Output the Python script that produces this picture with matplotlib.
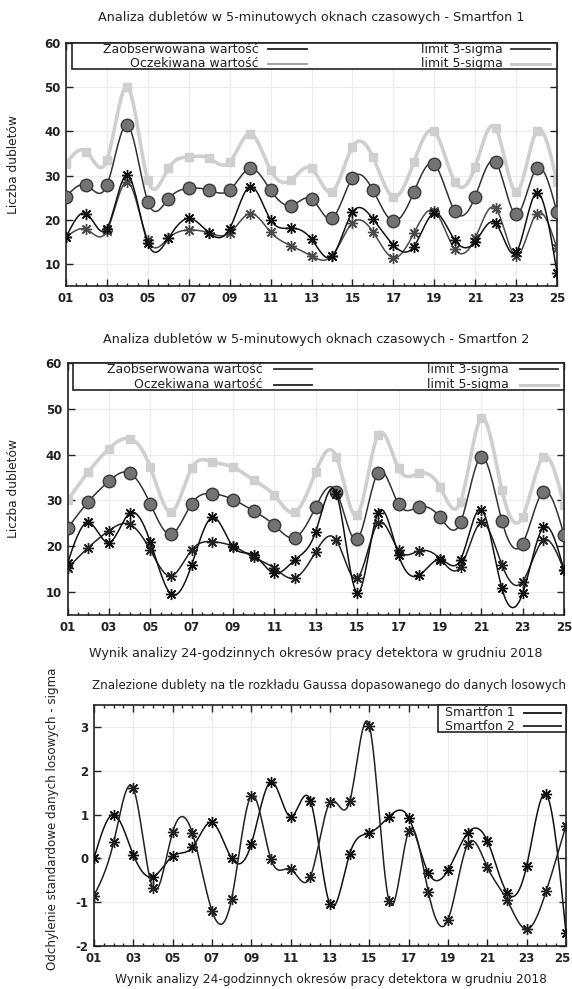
import numpy as np
import matplotlib
matplotlib.use("Agg")
import matplotlib.pyplot as plt
from matplotlib.ticker import MultipleLocator, FixedLocator
from matplotlib.patches import Rectangle
from matplotlib.transforms import ScaledTranslation

plt.rcParams['font.family'] = ['DejaVu Sans']
plt.rcParams['axes.unicode_minus'] = False

# dni grudnia 2018
days = list(range(1, 26))
day_ticks = list(range(1, 26, 2))
day_labels = ['%02d' % d for d in day_ticks]

# Smartfon 1
s1_obs = [16, 21.4, 18, 30.1, 14.7, 15.8, 20.3, 17, 18, 27.5, 20, 18.1, 15.6,
          11.7, 21.7, 20.2, 14.3, 13.9, 21.5, 15.4, 15, 19.2, 12.6, 26.1, 8]
s1_exp = [16, 17.8, 17.5, 28.6, 15.4, 15.8, 17.7, 17, 17, 21.4, 17.2, 14.1, 11.8,
          11.8, 19.3, 17.3, 11.4, 16.9, 22, 13.3, 15.8, 22.6, 11.8, 21.4, 13.5]
s1_3sig = [25.2, 27.8, 27.8, 41.4, 24.1, 24.7, 27.1, 26.7, 26.7, 31.6, 26.7, 23.2, 24.7,
           20.3, 29.4, 26.7, 19.7, 26.2, 32.6, 22.0, 25.2, 33.1, 21.2, 31.6, 21.7]
s1_5sig = [32.7, 35.4, 33.5, 50, 29, 31.6, 34.2, 33.9, 33, 39.5, 31.2, 29, 31.6,
           26.3, 36.5, 34.2, 25.2, 33, 40, 28.6, 32, 40.8, 26.3, 40, 28.5]

# Smartfon 2
s2_obs = [16.3, 25.2, 20.8, 27.2, 21, 9.6, 15.9, 26.3, 19.9, 18.1, 14.1, 17.1, 23.2,
          31.5, 9.9, 27.2, 18.1, 13.7, 17.1, 17.1, 28, 10.8, 9.7, 24.1, 14.8]
s2_exp = [15.2, 19.7, 23.4, 24.8, 19.2, 13.5, 19.2, 21, 20, 17.6, 15.2, 13.1, 18.8,
          21.3, 13, 25, 19.2, 19, 17.3, 15.5, 25.2, 15.9, 12.3, 21.3, 14.8]
s2_3sig = [23.9, 29.7, 34.2, 36.0, 29.3, 22.6, 29.3, 31.5, 30.2, 27.7, 24.6, 21.9, 28.6,
           31.9, 21.5, 36.0, 29.2, 28.6, 26.4, 25.2, 39.5, 25.5, 20.6, 31.9, 22.5]
s2_5sig = [30, 36.2, 41.3, 43.5, 37.3, 27.5, 37, 38.4, 37.3, 34.4, 31.1, 27.5, 36.2,
           39.5, 26.8, 44.2, 37, 35.9, 33, 29.7, 47.9, 32.2, 26.4, 39.5, 29]

# odchylenie w sigmach
sig_s1 = [0.0, 1.0, 0.08, -0.42, 0.05, 0.25, 0.82, 0.0, 0.33, 1.75, 0.95, 1.32, -1.05,
          0.1, 0.58, 0.95, 0.93, -0.33, -0.27, 0.58, 0.4, -0.78, -0.17, 1.46, -1.7]
sig_s2 = [-0.85, 0.37, 1.6, -0.68, 0.6, 0.58, -1.2, -0.92, 1.43, -0.02, -0.25, -0.42, 1.28,
          1.3, 3.03, -0.97, 0.62, -0.77, -1.4, 0.32, -0.2, -0.95, -1.62, -0.74, 0.75]


def csplines(x, y, n=400):
    # naturalny splajn kubiczny (jak "smooth csplines" w gnuplocie)
    x = np.asarray(x, float)
    y = np.asarray(y, float)
    h = np.diff(x)
    m = len(x)
    A = np.zeros((m, m))
    b = np.zeros(m)
    A[0, 0] = A[-1, -1] = 1
    for i in range(1, m - 1):
        A[i, i - 1] = h[i - 1]
        A[i, i] = 2 * (h[i - 1] + h[i])
        A[i, i + 1] = h[i]
        b[i] = 6 * ((y[i + 1] - y[i]) / h[i] - (y[i] - y[i - 1]) / h[i - 1])
    M = np.linalg.solve(A, b)
    xs = np.linspace(x[0], x[-1], n)
    k = np.clip(np.searchsorted(x, xs) - 1, 0, m - 2)
    hh = x[k + 1] - x[k]
    a = (x[k + 1] - xs) / hh
    c = (xs - x[k]) / hh
    ys = a * y[k] + c * y[k + 1] + ((a ** 3 - a) * M[k] + (c ** 3 - c) * M[k + 1]) * hh ** 2 / 6
    return xs, ys


star = (8, 2, 0)


def series(ax, y, color, lw=1.0, marker=star, ms=8, mfc=None, mec=None, z=3):
    xs, ys = csplines(days, y)
    ax.plot(xs, ys, color=color, lw=lw, zorder=z)
    ax.plot(days, y, ls='none', marker=marker, ms=ms,
            mfc=mfc if mfc else color, mec=mec if mec else color, mew=1.0, zorder=z)


def style_axes(ax, ylim, yticks):
    ax.set_xlim(1, 25)
    ax.set_ylim(*ylim)
    ax.xaxis.set_major_locator(FixedLocator(day_ticks))
    ax.set_xticklabels(day_labels)
    ax.xaxis.set_minor_locator(MultipleLocator(0.5))
    ax.set_yticks(yticks)
    ax.tick_params(which='both', direction='in', top=True, right=True, colors='#222222',
                   labelsize=8.5, width=1.0)
    ax.tick_params(which='major', length=5, pad=4)
    ax.tick_params(which='minor', length=2.5)
    for lab in ax.get_xticklabels() + ax.get_yticklabels():
        lab.set_fontweight('bold')
    for s in ax.spines.values():
        s.set_linewidth(1.2)
        s.set_color('#222222')
    ax.grid(True, which='major', color='#ececec', lw=0.8, zorder=0)


def key(ax, rows, box, size=9):
    # legenda w stylu gnuplota: tekst wyrównany do prawej, linia za tekstem
    x0, y0, x1, y1 = box
    ax.add_patch(Rectangle((x0, y0), x1 - x0, y1 - y0, transform=ax.transAxes,
                           fc='white', ec='#222222', lw=1.2, zorder=5, clip_on=False))
    for txt, tx, lx0, lx1, ty, col, lw in rows:
        ax.text(tx, ty, txt, transform=ax.transAxes, ha='right', va='center',
                fontsize=size, color='#222222', zorder=6)
        ax.plot([lx0, lx1], [ty, ty], transform=ax.transAxes, color=col, lw=lw,
                zorder=6, clip_on=False)


fig = plt.figure(figsize=(5.72, 9.89), dpi=100)
W, H = 572.0, 989.0


def place(l, t, r, b):
    return fig.add_axes([l / W, 1 - b / H, (r - l) / W, (b - t) / H])


# ---- panel 1 ----
ax1 = place(66, 43, 557, 286)
series(ax1, s1_5sig, '#cfcfcf', lw=2.6, marker='s', ms=6, z=2)
series(ax1, s1_3sig, '#333333', lw=1.1, marker='o', ms=9, mfc='#737373', mec='#3a3a3a')
series(ax1, s1_exp, '#4a4a4a', lw=1.1)
series(ax1, s1_obs, '#111111', lw=1.1)
style_axes(ax1, (5, 60), range(10, 61, 10))
key(ax1, [('Zaobserwowana wartość', 0.393, 0.411, 0.491, 0.975, '#222222', 1.3),
          ('Oczekiwana wartość', 0.393, 0.411, 0.491, 0.914, '#9a9a9a', 1.3),
          ('limit 3-sigma', 0.890, 0.906, 0.986, 0.975, '#333333', 1.3),
          ('limit 5-sigma', 0.890, 0.906, 0.986, 0.914, '#cbcbcb', 2.2)],
    (0.012, 0.892, 1.0, 1.0))
ax1.set_ylabel('Liczba dubletów', fontsize=8.8, color='#222222')
ax1.yaxis.set_label_coords((20 - 66) / 491.0, 0.5)
fig.text(311 / W, 1 - 17 / H, 'Analiza dubletów w 5-minutowych oknach czasowych - Smartfon 1',
         ha='center', va='center', fontsize=9.2, color='#222222')

# ---- panel 2 ----
ax2 = place(67.5, 363, 564, 615)
series(ax2, s2_5sig, '#cfcfcf', lw=2.6, marker='s', ms=6, z=2)
series(ax2, s2_3sig, '#333333', lw=1.1, marker='o', ms=9, mfc='#737373', mec='#3a3a3a')
series(ax2, s2_exp, '#222222', lw=1.1)
series(ax2, s2_obs, '#111111', lw=1.1)
style_axes(ax2, (5, 60), range(10, 61, 10))
key(ax2, [('Zaobserwowana wartość', 0.394, 0.416, 0.493, 0.976, '#333333', 1.3),
          ('Oczekiwana wartość', 0.394, 0.416, 0.493, 0.913, '#222222', 1.3),
          ('limit 3-sigma', 0.889, 0.911, 0.988, 0.976, '#333333', 1.3),
          ('limit 5-sigma', 0.889, 0.911, 0.988, 0.913, '#cbcbcb', 2.2)],
    (0.012, 0.893, 1.0, 1.0))
ax2.set_ylabel('Liczba dubletów', fontsize=8.8, color='#222222')
ax2.yaxis.set_label_coords((20 - 67.5) / 496.5, 0.5)
fig.text(316 / W, 1 - 339 / H, 'Analiza dubletów w 5-minutowych oknach czasowych - Smartfon 2',
         ha='center', va='center', fontsize=9.2, color='#222222')
fig.text(316 / W, 1 - 653 / H, 'Wynik analizy 24-godzinnych okresów pracy detektora w grudniu 2018',
         ha='center', va='center', fontsize=9.2, color='#222222')

# ---- panel 3 ----
ax3 = place(94, 705, 566, 946)
series(ax3, sig_s1, '#111111', lw=1.1)
series(ax3, sig_s2, '#222222', lw=1.1)
style_axes(ax3, (-2, 3.5), range(-2, 4))
# ostatnia etykieta lekko w lewo, żeby nie wychodziła poza obraz
last = ax3.get_xticklabels()[-1]
last.set_transform(last.get_transform() + ScaledTranslation(-4 / 100, 0, fig.dpi_scale_trans))
key(ax3, [('Smartfon 1', 0.892, 0.911, 0.989, 0.967, '#111111', 1.3),
          ('Smartfon 2', 0.892, 0.911, 0.989, 0.9125, '#222222', 1.3)],
    (0.729, 0.8875, 1.0, 1.0))
ax3.set_ylabel('Odchylenie standardowe danych losowych - sigma', fontsize=8.6, color='#222222')
ax3.yaxis.set_label_coords((59 - 94) / 472.0, 0.53)
fig.text(329 / W, 1 - 685 / H, 'Znalezione dublety na tle rozkładu Gaussa dopasowanego do danych losowych',
         ha='center', va='center', fontsize=8.6, color='#222222')
fig.text(331 / W, 1 - 980 / H, 'Wynik analizy 24-godzinnych okresów pracy detektora w grudniu 2018',
         ha='center', va='center', fontsize=8.7, color='#222222')

fig.savefig('out.png', dpi=100)
